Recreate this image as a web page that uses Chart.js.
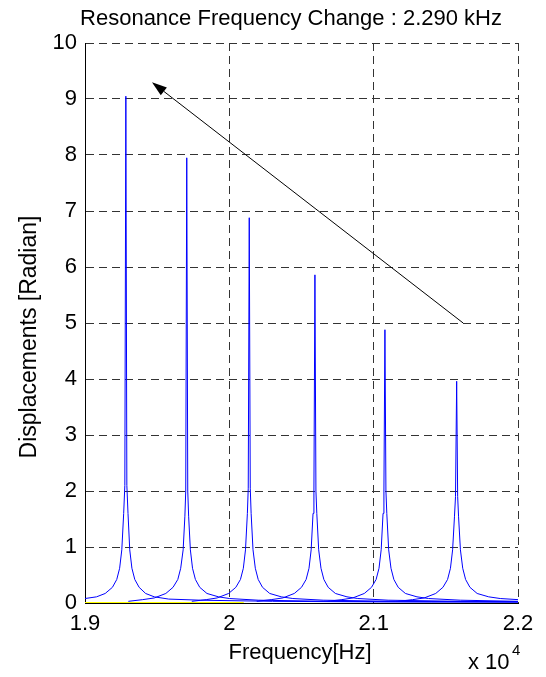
<!DOCTYPE html>
<html>
<head>
<meta charset="utf-8">
<script src="https://cdn.jsdelivr.net/npm/chart.js@4"></script>
<style>
  body { margin: 0; background: #fff; }
</style>
</head>
<body>
<canvas id="chart" width="546" height="677"></canvas>
<script>
// frequency in units of 1e4 Hz, displacement in radian
const peak1X = [1.9000, 1.9080, 1.9140, 1.9190, 1.9220, 1.9240, 1.9255, 1.9268, 1.9276, 1.9283, 1.9290, 1.9298, 1.9310, 1.9325, 1.9345, 1.9375, 1.9420, 1.9480, 1.9580, 1.9800, 2.0300, 2.1000, 2.2000];
const peak1Y = [0.08, 0.11, 0.17, 0.28, 0.42, 0.62, 0.95, 1.6, 2.1, 9.05, 2.1, 1.6, 0.95, 0.62, 0.42, 0.28, 0.17, 0.11, 0.07, 0.05, 0.03, 0.02, 0.02];

const peak2X = [1.9300, 1.9400, 1.9480, 1.9560, 1.9610, 1.9643, 1.9663, 1.9680, 1.9692, 1.9698, 1.9705, 1.9712, 1.9718, 1.9730, 1.9745, 1.9765, 1.9795, 1.9845, 1.9925, 2.0000, 2.0200, 2.0700, 2.1400, 2.2000];
const peak2Y = [0.03, 0.06, 0.09, 0.17, 0.28, 0.42, 0.62, 0.95, 1.55, 2.0, 7.95, 2.0, 1.55, 0.95, 0.62, 0.42, 0.28, 0.17, 0.11, 0.08, 0.05, 0.03, 0.02, 0.02];

const peak3X = [1.9740, 1.9840, 1.9915, 1.9995, 2.0045, 2.0077, 2.0097, 2.0112, 2.0125, 2.0131, 2.0138, 2.0145, 2.0151, 2.0164, 2.0180, 2.0200, 2.0230, 2.0280, 2.0360, 2.0440, 2.0650, 2.1150, 2.2000];
const peak3Y = [0.03, 0.06, 0.09, 0.17, 0.28, 0.42, 0.62, 0.95, 1.6, 2.05, 6.88, 2.05, 1.6, 0.95, 0.62, 0.42, 0.28, 0.17, 0.11, 0.08, 0.05, 0.03, 0.02];

const peak4X = [2.0190, 2.0290, 2.0370, 2.0450, 2.0500, 2.0532, 2.0552, 2.0567, 2.0580, 2.0586, 2.0593, 2.0600, 2.0606, 2.0619, 2.0635, 2.0655, 2.0685, 2.0735, 2.0815, 2.0890, 2.1100, 2.1600, 2.2000];
const peak4Y = [0.03, 0.06, 0.09, 0.17, 0.28, 0.42, 0.62, 0.95, 1.6, 2.0, 5.86, 2.0, 1.6, 0.95, 0.62, 0.42, 0.28, 0.17, 0.11, 0.08, 0.05, 0.03, 0.02];

const peak5X = [2.0680, 2.0780, 2.0855, 2.0935, 2.0985, 2.1017, 2.1037, 2.1052, 2.1065, 2.1071, 2.1078, 2.1085, 2.1091, 2.1104, 2.1120, 2.1140, 2.1170, 2.1220, 2.1300, 2.1380, 2.1600, 2.2000];
const peak5Y = [0.03, 0.06, 0.09, 0.17, 0.28, 0.42, 0.62, 0.95, 1.6, 2.0, 4.88, 2.0, 1.6, 0.95, 0.62, 0.42, 0.28, 0.17, 0.11, 0.08, 0.05, 0.03];

const peak6X = [2.1170, 2.1270, 2.1350, 2.1430, 2.1480, 2.1512, 2.1532, 2.1547, 2.1560, 2.1567, 2.1575, 2.1582, 2.1588, 2.1601, 2.1617, 2.1637, 2.1667, 2.1717, 2.1797, 2.1877, 2.2000];
const peak6Y = [0.03, 0.06, 0.09, 0.17, 0.28, 0.42, 0.62, 0.95, 1.55, 1.9, 3.96, 1.9, 1.55, 0.95, 0.62, 0.42, 0.28, 0.17, 0.11, 0.08, 0.06];

const baseX = [1.9, 2.01];
const baseY = [0, 0];

// arrow from the last peak back to the first one
const arrowX = [2.162, 1.9464];
const arrowY = [5.0, 9.30];

const xTicks = [1.9, 2.0, 2.1, 2.2];
const xTickLabels = ['1.9', '2', '2.1', '2.2'];
const yTicks = [0, 1, 2, 3, 4, 5, 6, 7, 8, 9, 10];

const titleText = 'Resonance Frequency Change : 2.290 kHz';
const xLabel = 'Frequency[Hz]';
const yLabel = 'Displacements [Radian]';

const FONT = '"Liberation Sans", Arial, Helvetica, sans-serif';

function points(xs, ys) {
  return xs.map((x, i) => ({ x: x, y: ys[i] }));
}

function lineSet(xs, ys, color, width) {
  return {
    data: points(xs, ys),
    showLine: true,
    borderColor: color,
    borderWidth: width || 1,
    pointRadius: 0,
    tension: 0,
    fill: false
  };
}

const textPlugin = {
  id: 'texts',
  afterDraw(chart) {
    const ctx = chart.ctx;
    const xs = chart.scales.x;
    const ys = chart.scales.y;
    ctx.save();

    // arrow
    const x0 = xs.getPixelForValue(arrowX[0]);
    const y0 = ys.getPixelForValue(arrowY[0]);
    const x1 = xs.getPixelForValue(arrowX[1]);
    const y1 = ys.getPixelForValue(arrowY[1]);
    const ang = Math.atan2(y1 - y0, x1 - x0);
    const headLen = 15, headW = 5;
    ctx.strokeStyle = '#000';
    ctx.fillStyle = '#000';
    ctx.lineWidth = 1;
    ctx.beginPath();
    ctx.moveTo(x0, y0);
    ctx.lineTo(x1 - Math.cos(ang) * headLen, y1 - Math.sin(ang) * headLen);
    ctx.stroke();
    ctx.beginPath();
    ctx.moveTo(x1, y1);
    ctx.lineTo(x1 - Math.cos(ang) * headLen - Math.sin(ang) * headW, y1 - Math.sin(ang) * headLen + Math.cos(ang) * headW);
    ctx.lineTo(x1 - Math.cos(ang) * headLen + Math.sin(ang) * headW, y1 - Math.sin(ang) * headLen - Math.cos(ang) * headW);
    ctx.closePath();
    ctx.fill();

    // texts
    ctx.fillStyle = '#000';
    ctx.textAlign = 'center';
    ctx.textBaseline = 'alphabetic';
    ctx.font = '22px ' + FONT;
    ctx.fillText(titleText, 291, 25);
    ctx.fillText(xLabel, 300, 659);

    ctx.save();
    ctx.font = '23px ' + FONT;
    ctx.translate(36, 337);
    ctx.rotate(-Math.PI / 2);
    ctx.fillText(yLabel, 0, 0);
    ctx.restore();

    ctx.textAlign = 'left';
    ctx.fillText('x 10', 468, 669);
    ctx.font = '15px ' + FONT;
    ctx.fillText('4', 512, 655);
    ctx.restore();
  }
};

const ctx = document.getElementById('chart').getContext('2d');
new Chart(ctx, {
  type: 'scatter',
  data: {
    datasets: [
      lineSet(baseX, baseY, '#ffff00', 2),
      lineSet(peak1X, peak1Y, '#0000ff'),
      lineSet(peak2X, peak2Y, '#0000ff'),
      lineSet(peak3X, peak3Y, '#0000ff'),
      lineSet(peak4X, peak4Y, '#0000ff'),
      lineSet(peak5X, peak5Y, '#0000ff'),
      lineSet(peak6X, peak6Y, '#0000ff')
    ]
  },
  options: {
    responsive: false,
    animation: false,
    layout: { padding: { left: 0, right: 28, top: 43, bottom: 0 } },
    plugins: {
      legend: { display: false },
      title: { display: false },
      tooltip: { enabled: false }
    },
    scales: {
      x: {
        type: 'linear',
        min: 1.9,
        max: 2.2,
        afterFit: s => { s.height = 74; },
        afterBuildTicks: s => { s.ticks = xTicks.map(v => ({ value: v })); },
        ticks: {
          padding: 8,
          color: '#000',
          font: { family: FONT, size: 22 },
          callback: (v, i) => xTickLabels[i]
        },
        grid: { color: '#333', lineWidth: 1, drawTicks: false },
        border: { display: true, color: '#000', width: 1, dash: [8, 5] }
      },
      y: {
        min: 0,
        max: 10,
        afterFit: s => { s.width = 85; },
        afterBuildTicks: s => { s.ticks = yTicks.map(v => ({ value: v })); },
        ticks: {
          padding: 8,
          color: '#000',
          font: { family: FONT, size: 22 }
        },
        grid: { color: '#333', lineWidth: 1, drawTicks: false },
        border: { display: true, color: '#000', width: 1, dash: [8, 5] }
      }
    }
  },
  plugins: [textPlugin]
});
</script>
</body>
</html>
